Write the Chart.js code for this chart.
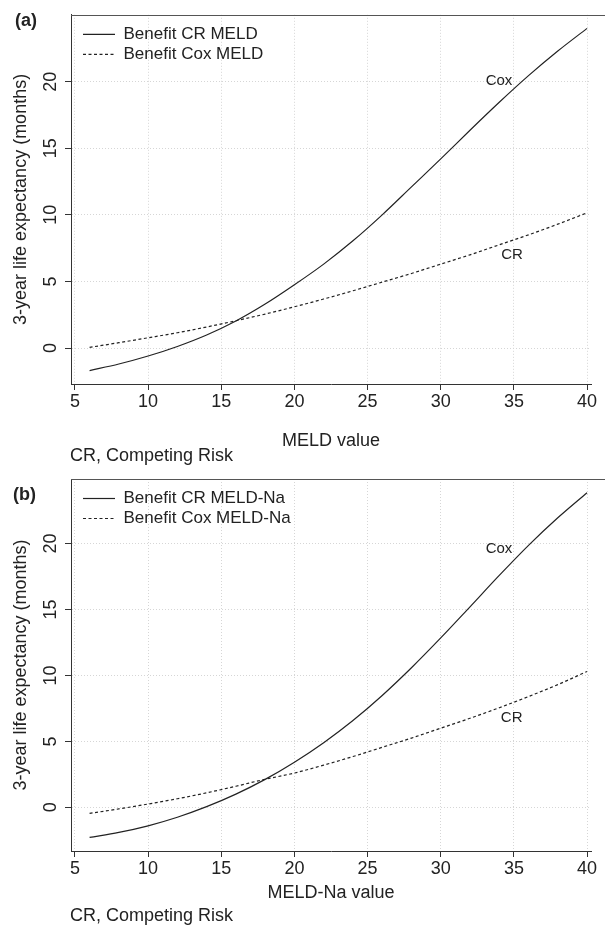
<!DOCTYPE html>
<html>
<head>
<meta charset="utf-8">
<script src="https://cdn.jsdelivr.net/npm/chart.js@4.4.1/dist/chart.umd.min.js"></script>
<style>
  body { margin: 0; background: #fff; font-family: "Liberation Sans", Arial, sans-serif; color: #222; }
  #page { position: relative; width: 605px; height: 927px; overflow: hidden; }
  .box { position: absolute; left: 0; width: 605px; }
  .tag { position: absolute; font-weight: bold; font-size: 18px; line-height: 20px; }
  .note { position: absolute; font-size: 18px; line-height: 20px; }
</style>
</head>
<body>
<div id="page">
  <div class="box" style="top:0;height:463px"><canvas id="chartA"></canvas></div>
  <div class="box" style="top:463px;height:464px"><canvas id="chartB"></canvas></div>
  <div class="tag" style="left:15px;top:10px">(a)</div>
  <div class="tag" style="left:13px;top:484px">(b)</div>
  <div class="note" style="left:70px;top:445px">CR, Competing Risk</div>
  <div class="note" style="left:70px;top:905px">CR, Competing Risk</div>
</div>
<script>
// x values (MELD / MELD-Na score)
const meldX = [6, 8, 10, 12, 14, 16, 18, 20, 22, 24, 26, 28, 30, 32, 34, 36, 38, 40];

// panel (a): MELD
const crMeld  = [-1.69, -1.2, -0.6, 0.12, 0.98, 2.03, 3.3, 4.75, 6.3, 8.05, 10.0, 12.1, 14.2, 16.35, 18.45, 20.45, 22.3, 24.0];
const coxMeld = [0.05, 0.4, 0.77, 1.15, 1.58, 2.05, 2.55, 3.1, 3.68, 4.3, 4.95, 5.6, 6.3, 7.0, 7.75, 8.5, 9.3, 10.15];

// panel (b): MELD-Na
const crMeldNa  = [-2.28, -1.9, -1.4, -0.75, 0.05, 1.0, 2.12, 3.42, 4.9, 6.58, 8.48, 10.58, 12.84, 15.2, 17.58, 19.86, 21.95, 23.85];
const coxMeldNa = [-0.46, -0.12, 0.25, 0.65, 1.1, 1.6, 2.13, 2.6, 3.2, 3.85, 4.55, 5.25, 6.0, 6.75, 7.55, 8.4, 9.3, 10.3];

const xTicks = [5, 10, 15, 20, 25, 30, 35, 40];
const yTicks = [0, 5, 10, 15, 20];

// text labels next to the curves
const curveText = ['Cox', 'CR'];
const curveXA = [33.98, 34.87];
const curveYA = [20.08, 7.0];
const curveXB = [33.98, 34.85];
const curveYB = [19.58, 6.82];

Chart.defaults.font.family = '"Liberation Sans", Arial, sans-serif';
Chart.defaults.color = '#222';

const pts = (xs, ys) => xs.map((x, i) => ({x: x, y: ys[i]}));

const curveLabels = {
  id: 'curveLabels',
  afterDatasetsDraw(chart, args, opts) {
    const {ctx, scales: {x, y}} = chart;
    ctx.save();
    ctx.font = '15px "Liberation Sans", Arial, sans-serif';
    ctx.fillStyle = '#222';
    ctx.textAlign = 'center';
    ctx.textBaseline = 'middle';
    opts.text.forEach((t, i) => ctx.fillText(t, x.getPixelForValue(opts.x[i]), y.getPixelForValue(opts.y[i])));
    ctx.restore();
  }
};

// top frame line runs to the edge of the picture
const topFrame = {
  id: 'topFrame',
  afterDraw(chart) {
    const {ctx, chartArea} = chart;
    const yy = Math.round(chartArea.top) + 0.5;
    ctx.save();
    ctx.strokeStyle = '#555';
    ctx.lineWidth = 1;
    ctx.beginPath();
    ctx.moveTo(chartArea.left, yy);
    ctx.lineTo(chart.width, yy);
    ctx.stroke();
    ctx.restore();
  }
};

// put the legend in the top-left corner of the plot
const legendInside = {
  id: 'legendInside',
  afterLayout(chart) {
    const lg = chart.legend;
    if (!lg) return;
    lg.left = chart.chartArea.left + 9;
    lg.top = chart.chartArea.top + 8;
  }
};

// legend samples keep the dataset dash pattern
const legendItems = chart =>
  Chart.defaults.plugins.legend.labels.generateLabels(chart).map(item =>
    Object.assign(item, { lineDash: chart.data.datasets[item.datasetIndex].borderDash }));

function makeChart(id, o) {
  return new Chart(document.getElementById(id), {
    type: 'line',
    data: {
      datasets: [
        { label: o.labels[0], data: pts(meldX, o.solid), borderColor: '#222', borderWidth: 1.2, borderDash: [] },
        { label: o.labels[1], data: pts(meldX, o.dotted), borderColor: '#222', borderWidth: 1.2, borderDash: [3, 2.5] }
      ]
    },
    options: {
      animation: false,
      responsive: true,
      maintainAspectRatio: false,
      devicePixelRatio: 1,
      layout: { padding: { top: o.padTop, right: 14, left: 0, bottom: 0 } },
      elements: {
        point: { radius: 0, hoverRadius: 0 },
        line: { cubicInterpolationMode: 'monotone', fill: false }
      },
      scales: {
        x: {
          type: 'linear', min: 4.73, max: 40.27,
          afterBuildTicks: s => { s.ticks = xTicks.map(v => ({value: v})); },
          afterFit: s => { s.height = o.xAxisH; },
          grid: { color: '#d6d6d6', tickColor: '#333', tickLength: 6, lineWidth: 1 },
          border: { color: '#333', width: 1, dash: [1, 2] },
          ticks: { color: '#222', font: { size: 18 }, padding: 1, maxRotation: 0, autoSkip: false },
          title: { display: true, text: o.xTitle, color: '#222', font: { size: 18 }, padding: { top: 0, bottom: o.xTitlePad } }
        },
        y: {
          type: 'linear', min: o.yMin, max: o.yMax,
          afterBuildTicks: s => { s.ticks = yTicks.map(v => ({value: v})); },
          afterFit: s => { s.width = 71; },
          grid: { color: '#d6d6d6', tickColor: '#333', tickLength: 6, lineWidth: 1 },
          border: { color: '#333', width: 1, dash: [1, 2] },
          ticks: { color: '#222', font: { size: 18 }, padding: 4, minRotation: 90, maxRotation: 90, crossAlign: 'center' },
          title: { display: true, text: '3-year life expectancy (months)', color: '#222', font: { size: 18 }, padding: { top: 10, bottom: 0 } }
        }
      },
      plugins: {
        legend: {
          position: 'chartArea',
          align: 'start',
          labels: {
            usePointStyle: true, pointStyle: 'line', pointStyleWidth: 32, padding: 3,
            color: '#222', font: { size: 17 }, generateLabels: legendItems
          }
        },
        tooltip: { enabled: false },
        curveLabels: { text: curveText, x: o.labelX, y: o.labelY }
      }
    },
    plugins: [curveLabels, topFrame, legendInside]
  });
}

makeChart('chartA', {
  labels: ['Benefit CR MELD', 'Benefit Cox MELD'],
  solid: crMeld, dotted: coxMeld,
  xTitle: 'MELD value',
  yMin: -2.7, yMax: 25.02,
  padTop: 12, xAxisH: 79, xTitlePad: 11,
  labelX: curveXA, labelY: curveYA
});

makeChart('chartB', {
  labels: ['Benefit CR MELD-Na', 'Benefit Cox MELD-Na'],
  solid: crMeldNa, dotted: coxMeldNa,
  xTitle: 'MELD-Na value',
  yMin: -3.31, yMax: 24.89,
  padTop: 16, xAxisH: 76, xTitlePad: 23,
  labelX: curveXB, labelY: curveYB
});
</script>
</body>
</html>
